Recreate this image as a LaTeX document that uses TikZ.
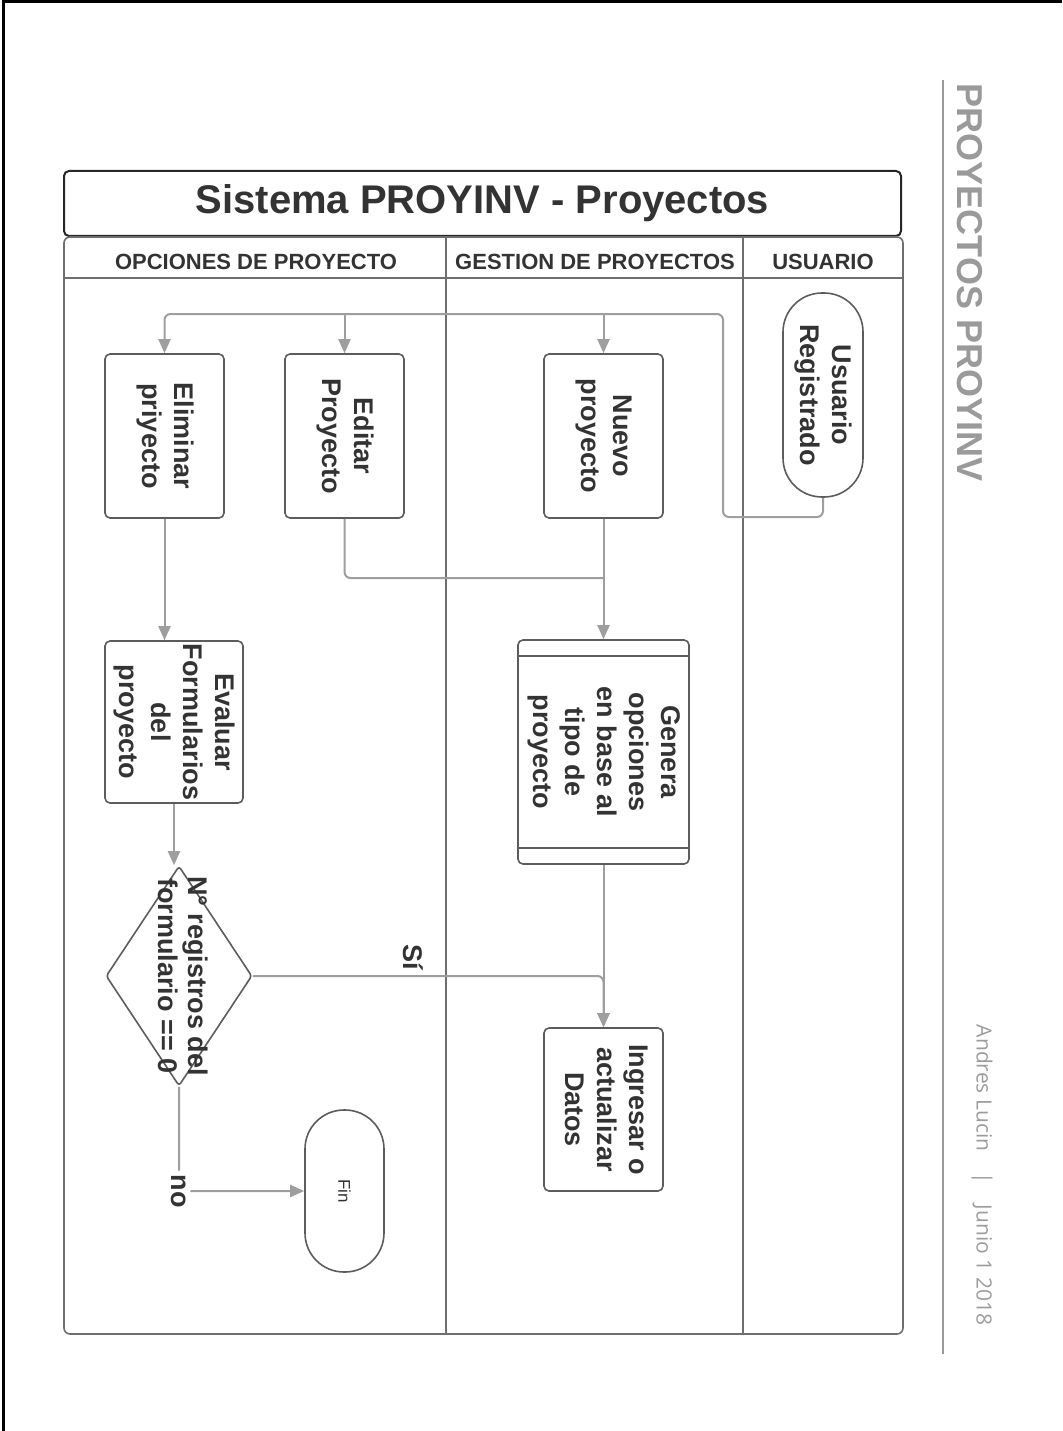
\documentclass[tikz,border=0pt]{standalone}
\usepackage{fontspec}
\setmainfont{Liberation Sans}
\newfontfamily\footfont{Open Sans}
\usetikzlibrary{shapes.geometric,arrows.meta,calc}
\definecolor{lanegray}{HTML}{6E6E6E}
\definecolor{boxgray}{HTML}{5C5C5C}
\definecolor{conngray}{HTML}{9E9E9E}
\definecolor{txtgray}{HTML}{333333}
\definecolor{sidegray}{HTML}{9A9A9A}
\definecolor{footgray}{HTML}{9C9C9C}

% vertical (clockwise) multi-line label
\newcommand{\vtext}[1]{\rotatebox{-90}{\begin{tabular}{@{}c@{}}#1\end{tabular}}}

\begin{document}
\begin{tikzpicture}[x=1pt,y=-1pt,
  proc/.style={draw=boxgray, line width=1.6pt, rounded corners=5pt, fill=white,
    inner sep=0pt, font=\fontsize{27}{32}\selectfont\bfseries, text=txtgray},
  term/.style={proc, rounded corners=39pt},
  decision/.style={diamond, draw=boxgray, line width=1.6pt, rounded corners=3pt,
    inner sep=0pt, fill=white},
  conn/.style={draw=conngray, line width=2pt, rounded corners=6pt},
  arr/.style={conn, -{Triangle[length=14pt,width=12pt]}},
  lane/.style={draw=lanegray, line width=1.6pt},
  hdr/.style={font=\fontsize{22}{24}\selectfont\bfseries, text=txtgray},
  lbl/.style={font=\fontsize{27}{30}\selectfont\bfseries, text=txtgray, inner sep=2pt}
]
\useasboundingbox (0,0) rectangle (1062,1431);

% page frame
\draw[black, line width=3pt] (3,1431) -- (3,1.5) -- (1062,1.5);

% title
\node[draw=black!85, line width=2pt, rounded corners=5pt, minimum width=837pt,
  minimum height=65pt, inner sep=0pt, font=\fontsize{40}{44}\selectfont\bfseries,
  text=txtgray] (title) at (482.5,203.5) {Sistema PROYINV - Proyectos};

% swimlanes
\draw[lane, rounded corners=6pt] (64,237) rectangle (903,1334);
\draw[lane] (64,278) -- (903,278);
\draw[lane] (446,237) -- (446,1334);
\draw[lane] (743,237) -- (743,1334);
\node[hdr] (h1) at (256,262) {OPCIONES DE PROYECTO};
\node[hdr] (h2) at (595,262) {GESTION DE PROYECTOS};
\node[hdr] (h3) at (823,262) {USUARIO};

% nodes
\node[term, minimum width=80pt, minimum height=204pt] (usr) at (823,395)
  {\vtext{Usuario\\Registrado}};
\node[proc, minimum width=119pt, minimum height=164pt] (nuevo) at (603.5,436)
  {\vtext{Nuevo\\proyecto}};
\node[proc, minimum width=119pt, minimum height=164pt] (editar) at (344.5,436)
  {\vtext{Editar\\Proyecto}};
\node[proc, minimum width=119pt, minimum height=164pt] (elim) at (164.5,436)
  {\vtext{Eliminar\\priyecto}};
\node[proc, minimum width=171pt, minimum height=224pt] (gen) at (603.5,752)
  {\vtext{Genera\\opciones\\en base al\\tipo de\\proyecto}};
\draw[boxgray, line width=1.6pt] ($(gen.north west)+(0,17)$) -- ($(gen.north east)+(0,17)$);
\draw[boxgray, line width=1.6pt] ($(gen.south west)+(0,-17)$) -- ($(gen.south east)+(0,-17)$);
\node[proc, minimum width=119pt, minimum height=163pt] (ing) at (603.5,1109.5)
  {\vtext{Ingresar o\\actualizar\\Datos}};
\node[proc, minimum width=138pt, minimum height=162pt] (eval) at (174,722)
  {\vtext{Evaluar\\Formularios\\del\\proyecto}};
\node[decision, minimum width=146pt, minimum height=220pt] (dec) at (179,976) {};
\node[lbl, inner sep=0pt] (dectxt) at (dec.center) {\vtext{N° registros del\\formulario == 0}};
\node[term, minimum width=79pt, minimum height=162pt, font=\fontsize{17}{20}\selectfont]
  (fin) at (344.5,1191) {\rotatebox{-90}{Fin}};

% connectors
\coordinate (busD) at (723,517);
\coordinate (busR) at (723,314);
\coordinate (join1) at (603.5,578);
\draw[arr] (usr.south) |- (busD) -- (busR) -| (elim.north);
\draw[arr] (editar.north |- busR) -- (editar.north);
\draw[arr] (nuevo.north |- busR) -- (nuevo.north);
\draw[conn] (editar.south) |- (join1);
\draw[arr] (nuevo.south) -- (gen.north);
\draw[arr] (elim.south) -- (elim.south |- eval.north);
\draw[arr] (eval.south) -- (eval.south |- dec.north);
\draw[arr] (gen.south) -- (ing.north);
\draw[arr] (dec.east) -| (ing.north);
\node[lbl, rotate=-90] (si) at (413,957) {Sí};
\draw[arr] (dec.south) |- node[pos=0.5, fill=white, lbl, rotate=-90, inner sep=4pt] (no) {no} (fin.west);

% side annotations
\draw[sidegray, line width=1.6pt] (943,80) -- (943,1354);
\node[rotate=-90, font=\fontsize{36}{38}\selectfont\bfseries, text=sidegray] (proj) at (970,282.5)
  {PROYECTOS PROYINV};
\node[rotate=-90, font=\footfont\fontsize{21}{24}\selectfont, text=footgray] (auth) at (982,1175)
  {Andres Lucin\quad|\quad Junio 1 2018};
\end{tikzpicture}
\end{document}
